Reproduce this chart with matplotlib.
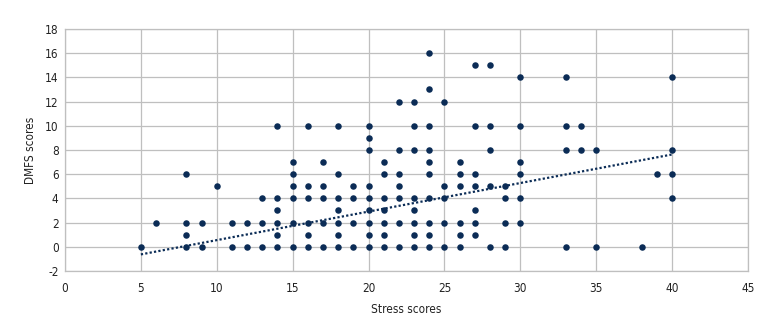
import numpy as np
import matplotlib.pyplot as plt

plt.rcParams['font.family'] = ['DejaVu Sans']
plt.rcParams['font.stretch'] = 'condensed'
plt.rcParams['axes.unicode_minus'] = False

# DMFS values observed at each stress score
points = {
    5: [0],
    6: [2],
    8: [6, 2, 1, 0],
    9: [2, 0],
    10: [5],
    11: [2, 0],
    12: [2, 0],
    13: [4, 2, 0],
    14: [10, 4, 3, 2, 1, 0],
    15: [7, 6, 5, 4, 2, 0],
    16: [10, 5, 4, 2, 1, 0],
    17: [7, 5, 4, 2, 0],
    18: [10, 6, 4, 3, 2, 1, 0],
    19: [5, 4, 2, 0],
    20: [10, 9, 8, 5, 4, 3, 2, 1, 0],
    21: [7, 6, 4, 3, 2, 1, 0],
    22: [12, 8, 6, 5, 4, 2, 0],
    23: [12, 10, 8, 4, 3, 2, 1, 0],
    24: [16, 13, 10, 8, 7, 6, 4, 2, 1, 0],
    25: [12, 5, 4, 2, 0],
    26: [7, 6, 5, 2, 1, 0],
    27: [15, 10, 6, 5, 3, 2, 1],
    28: [15, 10, 8, 5, 0],
    29: [5, 4, 2, 0],
    30: [14, 10, 7, 6, 4, 2],
    33: [14, 10, 8, 0],
    34: [10, 8],
    35: [8, 0],
    38: [0],
    39: [6],
    40: [14, 8, 6, 4],
}
stress = [k for k, v in points.items() for _ in v]
dmfs = [y for v in points.values() for y in v]

# linear trend
trend_x = [5, 40]
trend_slope = 0.236
trend_icpt = -1.81

fig = plt.figure(figsize=(7.8, 3.36), dpi=100)
ax = fig.add_axes([0.0833, 0.1935, 0.8757, 0.7202])

ax.scatter(stress, dmfs, s=22, color='#0b2c56', zorder=3, linewidths=0)
tx = np.array(trend_x)
ax.plot(tx, trend_slope * tx + trend_icpt, color='#0b2c56', linestyle=(0, (1, 1)),
        linewidth=1.6, zorder=2)

ax.set_xlim(0, 45)
ax.set_ylim(-2, 18)
ax.set_xticks(range(0, 46, 5))
ax.set_yticks(range(-2, 19, 2))
ax.grid(True, color='#bfbfbf', linewidth=0.9)
ax.set_axisbelow(True)
for sp in ax.spines.values():
    sp.set_color('#bfbfbf')
    sp.set_linewidth(0.9)
ax.tick_params(axis='x', length=0, labelsize=8.5, colors='#222222', pad=8)
ax.tick_params(axis='y', length=0, labelsize=8.5, colors='#222222', pad=4.5)

ax.set_xlabel('Stress scores', fontsize=8.5, color='#222222', labelpad=6)
ax.set_ylabel('DMFS scores', fontsize=8.5, color='#222222', labelpad=6)

fig.savefig('out.png', dpi=100)
